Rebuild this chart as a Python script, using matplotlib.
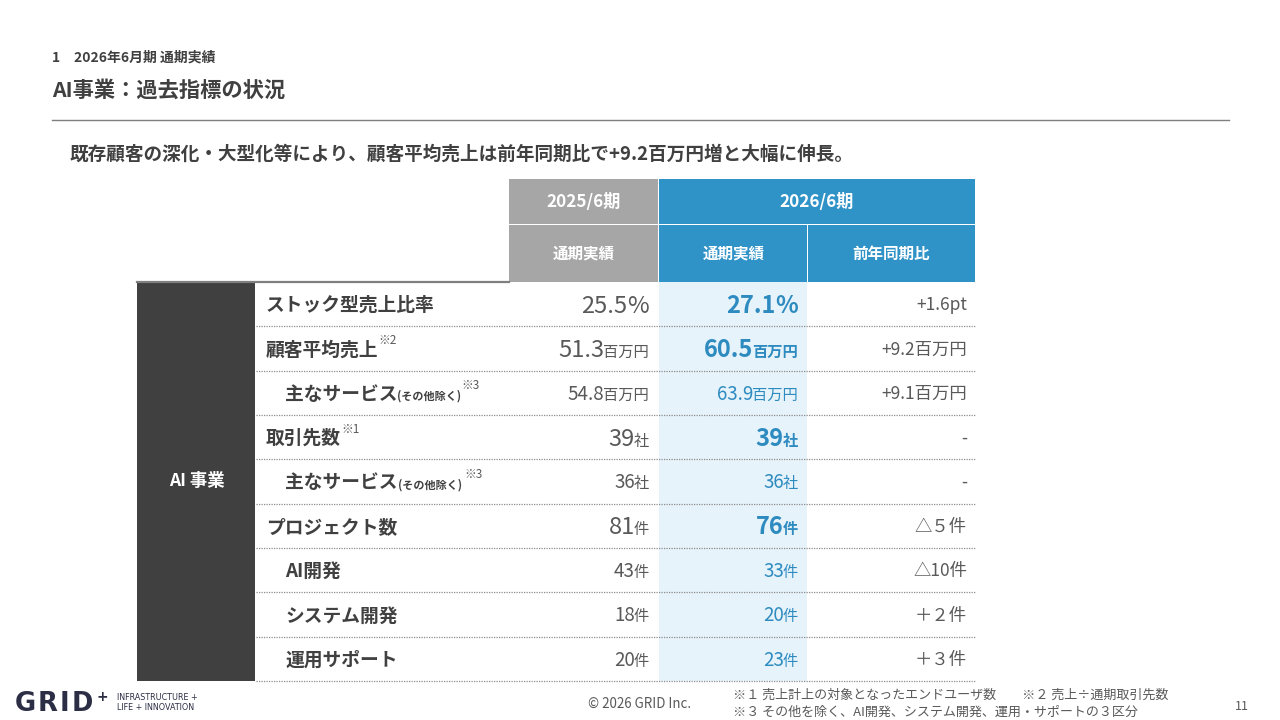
import matplotlib
matplotlib.use("Agg")
import matplotlib.pyplot as plt
from matplotlib.patches import Rectangle

plt.rcParams['font.family'] = ['Noto Sans CJK JP', 'DejaVu Sans']

# ---------------- data ----------------
page_section = "1　2026年6月期 通期実績"
title = "AI事業：過去指標の状況"
subtitle = "既存顧客の深化・大型化等により、顧客平均売上は前年同期比で+9.2百万円増と大幅に伸長。"
segment = "AI 事業"
period_prev = "2025/6期"
period_cur = "2026/6期"
col_headers = ["通期実績", "通期実績", "前年同期比"]

labels = ["ストック型売上比率", "顧客平均売上", "主なサービス", "取引先数", "主なサービス",
          "プロジェクト数", "AI開発", "システム開発", "運用サポート"]
label_paren = ["", "", "(その他除く)", "", "(その他除く) ", "", "", "", ""]
label_notes = ["", "※2", "※3", "※1", "※3", "", "", "", ""]
indent = [0, 0, 1, 0, 1, 0, 1, 1, 1]
main_row = [True, True, False, True, False, True, False, False, False]
prev_vals = ["25.5", "51.3", "54.8", "39", "36", "81", "43", "18", "20"]
cur_vals = ["27.1", "60.5", "63.9", "39", "36", "76", "33", "20", "23"]
units = ["%", "百万円", "百万円", "社", "社", "件", "件", "件", "件"]
diffs = ["+1.6pt", "+9.2百万円", "+9.1百万円", "-", "-", "△５件", "△10件", "＋２件", "＋３件"]

footnote1 = "※１ 売上計上の対象となったエンドユーザ数　　※２ 売上÷通期取引先数"
footnote2 = "※３ その他を除く、AI開発、システム開発、運用・サポートの３区分"
copyright_txt = "© 2026 GRID Inc."
page_no = "11"
logo_letters = ["G", "R", "I", "D"]
logo_tag = ["INFRASTRUCTURE +", "LIFE + INNOVATION"]

# ---------------- style ----------------
DARK = "#404040"
GRAY_TXT = "#595959"
HDR_GRAY = "#A6A6A6"
HDR_BLUE = "#3093C8"
BLUE_TXT = "#2E8BC0"
LIGHT_BLUE = "#E6F3FA"
NAVY = "#2B2E45"

fig = plt.figure(figsize=(12.8, 7.2), dpi=100)
ax = fig.add_axes([0, 0, 1, 1])
ax.set_xlim(0, 1280)
ax.set_ylim(720, 0)
ax.axis("off")
renderer = fig.canvas.get_renderer()


def twidth(t):
    return t.get_window_extent(renderer).width


def run_left(x, y, parts):
    for s, kw in parts:
        t = ax.text(x, y, s, ha="left", va="baseline", **kw)
        x += twidth(t)
    return x


def run_right(x, y, parts, overlap=0):
    for k, (s, kw) in enumerate(reversed(parts)):
        t = ax.text(x, y, s, ha="right", va="baseline", **kw)
        x -= twidth(t)
        if k == 0 and len(parts) > 1:
            x += overlap
    return x


# ---------------- header text ----------------
ax.text(52, 58, page_section, fontsize=10, fontweight="bold", color=DARK, va="center")
ax.text(52, 90, title, fontsize=15.3, fontweight="bold", color=DARK, va="center")
ax.plot([52, 1229], [120, 120], color="#7F7F7F", lw=1)
ax.text(70, 154, subtitle, fontsize=13.4, fontweight="bold", color=DARK, va="center")

# ---------------- table geometry ----------------
x_lab0, x_lab1 = 137, 256
x_c1, x_c2, x_c3, x_end = 509, 659, 808, 975
y_h0, y_h1, y_body = 179, 225, 282
y_bottom = 681
n = len(labels)
rh = (y_bottom - y_body) / n

# header cells
ax.add_patch(Rectangle((x_c1, y_h0), x_c2 - x_c1 - 1.5, y_h1 - y_h0 - 1.5, color=HDR_GRAY, lw=0))
ax.add_patch(Rectangle((x_c2, y_h0), x_end - x_c2, y_h1 - y_h0 - 1.5, color=HDR_BLUE, lw=0))
ax.add_patch(Rectangle((x_c1, y_h1), x_c2 - x_c1 - 1.5, y_body - y_h1, color=HDR_GRAY, lw=0))
ax.add_patch(Rectangle((x_c2, y_h1), x_c3 - x_c2 - 1.5, y_body - y_h1, color=HDR_BLUE, lw=0))
ax.add_patch(Rectangle((x_c3, y_h1), x_end - x_c3, y_body - y_h1, color=HDR_BLUE, lw=0))

ax.text((x_c1 + x_c2) / 2, (y_h0 + y_h1) / 2, period_prev, color="white", fontsize=12.3,
        fontweight="bold", ha="center", va="center")
ax.text((x_c2 + x_end) / 2, (y_h0 + y_h1) / 2, period_cur, color="white", fontsize=12.3,
        fontweight="bold", ha="center", va="center")
for (a, b), s in zip([(x_c1, x_c2), (x_c2, x_c3), (x_c3, x_end)], col_headers):
    ax.text((a + b) / 2, (y_h1 + y_body) / 2, s, color="white", fontsize=11.2,
            fontweight="bold", ha="center", va="center")

# top rule of body
ax.plot([x_lab0, x_c1], [y_body - 0.5, y_body - 0.5], color="#7F7F7F", lw=1.6)

# dark segment block
ax.add_patch(Rectangle((x_lab0, y_body), x_lab1 - x_lab0 - 1, y_bottom - y_body, color=DARK, lw=0))
ax.text((x_lab0 + x_lab1) / 2, (y_body + y_bottom) / 2, segment, color="white", fontsize=12.5,
        fontweight="bold", ha="center", va="center")

# light blue current column
ax.add_patch(Rectangle((x_c2, y_body), x_c3 - x_c2 - 1, y_bottom - y_body, color=LIGHT_BLUE, lw=0))

# rows
for i in range(n):
    top = y_body + i * rh
    cy = top + rh / 2
    ax.plot([x_lab1, x_end], [top + rh, top + rh], color="#8C8C8C", lw=0.9, ls=(0, (1, 1)))

    # label
    lx = 266 if indent[i] == 0 else 285
    base = cy + 0.37 * 13.5 * 100 / 72
    parts = [(labels[i], dict(fontsize=13.5, fontweight="bold", color=DARK))]
    if label_paren[i]:
        parts.append((label_paren[i], dict(fontsize=8, fontweight="bold", color=DARK)))
    end = run_left(lx, base, parts)
    if label_notes[i]:
        ax.text(end, cy - 4, label_notes[i], fontsize=8.5, color=GRAY_TXT,
                ha="left", va="baseline")

    # values
    big = 17 if main_row[i] else 13.5
    usz = 11
    base_v = cy + 0.36 * big * 100 / 72
    u_size = big if units[i] == "%" else usz
    ov = 0 if units[i] == "%" else 1
    run_right(649, base_v, [(prev_vals[i], dict(fontsize=big, color=GRAY_TXT)),
                            (units[i], dict(fontsize=u_size, color=GRAY_TXT))], overlap=ov)
    w = "bold" if main_row[i] else "normal"
    run_right(798, base_v, [(cur_vals[i], dict(fontsize=big, color=BLUE_TXT, fontweight=w)),
                            (units[i], dict(fontsize=u_size, color=BLUE_TXT, fontweight=w))],
              overlap=ov)
    base_d = cy + 0.36 * 12.5 * 100 / 72
    ax.text(967, base_d, diffs[i], fontsize=12.5, color=GRAY_TXT, ha="right", va="baseline")

# ---------------- footer ----------------
gx = 15
for L in logo_letters:
    t = ax.text(gx, 711, L, fontsize=18.5, fontweight="bold", color=NAVY,
                family="DejaVu Sans", va="baseline")
    gx += twidth(t) + 2
ax.text(gx + 1, 701, "+", fontsize=10, fontweight="bold", color=NAVY,
        family="DejaVu Sans", va="baseline")
ax.text(117, 700, logo_tag[0], fontsize=5.8, color=NAVY, family="DejaVu Sans", va="baseline")
ax.text(117, 710, logo_tag[1], fontsize=5.8, color=NAVY, family="DejaVu Sans", va="baseline")

ax.text(640, 704, copyright_txt, fontsize=9.6, color=GRAY_TXT, ha="center", va="center")
ax.text(733, 695, footnote1, fontsize=9.4, color=GRAY_TXT, ha="left", va="center")
ax.text(733, 712, footnote2, fontsize=9.4, color=GRAY_TXT, ha="left", va="center")
ax.text(1242, 707, page_no, fontsize=9, color=GRAY_TXT, ha="center", va="center")

fig.savefig("out.png", dpi=100)
